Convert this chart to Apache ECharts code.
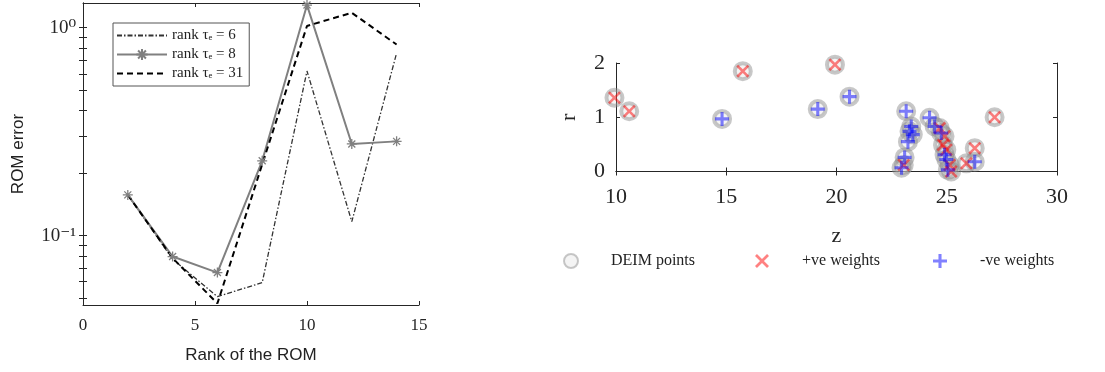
<!DOCTYPE html>
<html>
<head>
<meta charset="utf-8">
<script src="https://cdn.jsdelivr.net/npm/echarts@6/dist/echarts.min.js"></script>
<style>
html,body{margin:0;padding:0;background:#fff;}
#c{width:1105px;height:372px;}
</style>
</head>
<body>
<div id="c"></div>
<script>
// ---------- Left chart data ----------
const ranks = [2, 4, 6, 8, 10, 12, 14];
const err_tau6  = [0.157, 0.077, 0.0509, 0.0594, 0.619, 0.1167, 0.755];
const err_tau8  = [0.157, 0.0793, 0.0664, 0.229, 1.285, 0.276, 0.284];
const err_tau31 = [0.157, 0.078, 0.0472, 0.22, 1.02, 1.18, 0.83];
const seriesNames = ['rank \u03c4\u2091 = 6', 'rank \u03c4\u2091 = 8', 'rank \u03c4\u2091 = 31'];
const leftXTicks = [0, 5, 10, 15];
const leftYTickValues = [0.1, 1];
const leftYTickLabels = ['10\u207b\u00b9', '10\u2070'];
const leftYMinorTicks = [0.05, 0.06, 0.07, 0.08, 0.09, 0.1, 0.2, 0.3, 0.4, 0.5, 0.6, 0.7, 0.8, 0.9, 1];

// ---------- Right chart data ----------
const posZ = [9.93, 10.6, 15.75, 19.93, 27.17, 26.27, 25.89, 24.68, 24.9, 24.83, 24.98, 25.13, 25.2, 23.05];
const posR = [1.36, 1.11, 1.85, 1.97, 1.00, 0.43, 0.15, 0.80, 0.65, 0.49, 0.40, 0.12, 0.0, 0.12];
const negZ = [14.81, 19.15, 20.59, 23.16, 23.39, 23.31, 23.46, 23.24, 23.09, 22.95, 24.22, 24.45, 24.75, 24.9, 24.98, 25.05, 26.27];
const negR = [0.97, 1.15, 1.38, 1.11, 0.83, 0.74, 0.68, 0.55, 0.26, 0.07, 0.99, 0.83, 0.71, 0.31, 0.22, 0.03, 0.18];
const rightXTicks = [10, 15, 20, 25, 30];
const rightYTicks = [0, 1, 2];
const legendNames = ['DEIM points', '+ve weights', '-ve weights'];

const zip = (a, b) => a.map((v, i) => [v, b[i]]);
const posPts = zip(posZ, posR);
const negPts = zip(negZ, negR);
const deimPts = posPts.concat(negPts);

const AX = '#262626';
const SERIF = '"Liberation Serif","DejaVu Serif",serif';
const SANS = '"Liberation Sans",Arial,sans-serif';

const PLUS = 'path://M3.9,0H6.1V3.9H10V6.1H6.1V10H3.9V6.1H0V3.9H3.9Z';
const XSYM = 'path://M0,1.4L1.4,0L5,3.6L8.6,0L10,1.4L6.4,5L10,8.6L8.6,10L5,6.4L1.4,10L0,8.6L3.6,5Z';
const AST = 'path://M0,5L10,5M5,0L5,10M1.5,1.5L8.5,8.5M8.5,1.5L1.5,8.5';

const chart = echarts.init(document.getElementById('c'), null, {renderer: 'canvas'});

function logLabel(v) {
  const i = leftYTickValues.findIndex(t => Math.abs(t - v) / t < 1e-6);
  return i >= 0 ? leftYTickLabels[i] : '';
}

const rightLegendBase = {
  top: 253, padding: 0, itemWidth: 70, itemHeight: 14,
  textStyle: {fontFamily: SERIF, fontSize: 16, color: '#222'}
};

const option = {
  animation: false,
  backgroundColor: '#fff',
  grid: [
    {left: 83, top: 3, width: 336, height: 302},
    {left: 616, top: 63, width: 441, height: 108.5}
  ],
  legend: [
    {
      data: [
        {name: seriesNames[0], itemStyle: {opacity: 0}},
        {name: seriesNames[1]},
        {name: seriesNames[2], itemStyle: {opacity: 0}}
      ],
      orient: 'vertical',
      left: 113, top: 23,
      itemWidth: 50, itemHeight: 14, itemGap: 4,
      padding: [5, 6, 5, 3],
      borderColor: '#555', borderWidth: 1, backgroundColor: '#fff',
      textStyle: {fontFamily: SERIF, fontSize: 15, color: '#222'}
    },
    Object.assign({data: [legendNames[0]], left: 563}, rightLegendBase),
    Object.assign({data: [legendNames[1]], left: 755}, rightLegendBase),
    Object.assign({data: [legendNames[2]], left: 933}, rightLegendBase)
  ],
  xAxis: [
    {
      gridIndex: 0, type: 'value', min: 0, max: 15, interval: 5,
      name: 'Rank of the ROM', nameLocation: 'middle', nameGap: 42,
      nameTextStyle: {fontFamily: SANS, fontSize: 17, color: '#222'},
      axisLine: {lineStyle: {color: AX}},
      axisTick: {inside: true, length: 4, lineStyle: {color: AX}},
      axisLabel: {fontFamily: SERIF, fontSize: 17, color: AX, margin: 12,
        customValues: leftXTicks},
      splitLine: {show: false}
    },
    {
      gridIndex: 0, type: 'value', min: 0, max: 15, interval: 5, position: 'top',
      axisLine: {lineStyle: {color: AX}},
      axisTick: {inside: true, length: 4, lineStyle: {color: AX}},
      axisLabel: {show: false}, splitLine: {show: false}
    },
    {
      gridIndex: 1, type: 'value', min: 10, max: 30, interval: 5,
      name: 'z', nameLocation: 'middle', nameGap: 54,
      nameTextStyle: {fontFamily: SERIF, fontSize: 22, color: AX},
      axisLine: {lineStyle: {color: AX}},
      axisTick: {inside: true, length: 4, lineStyle: {color: AX}},
      axisLabel: {fontFamily: SERIF, fontSize: 22, color: AX, margin: 15,
        customValues: rightXTicks},
      splitLine: {show: false}
    },
    {
      gridIndex: 1, type: 'value', min: 10, max: 30, interval: 5, position: 'top',
      axisLine: {lineStyle: {color: AX}},
      axisTick: {inside: true, length: 4, lineStyle: {color: AX}},
      axisLabel: {show: false}, splitLine: {show: false}
    }
  ],
  yAxis: [
    {
      gridIndex: 0, type: 'log', min: 0.04637, max: 1.315, logBase: 10,
      name: 'ROM error', nameLocation: 'middle', nameGap: 56, nameRotate: 90,
      nameTextStyle: {fontFamily: SANS, fontSize: 17, color: '#222'},
      axisLine: {lineStyle: {color: AX}},
      axisTick: {inside: true, length: 4, lineStyle: {color: AX}, customValues: leftYMinorTicks},
      axisLabel: {fontFamily: SERIF, fontSize: 19, color: AX, margin: 7,
        customValues: leftYTickValues, formatter: logLabel},
      splitLine: {show: false}, minorTick: {show: false}
    },
    {
      gridIndex: 0, type: 'log', min: 0.04637, max: 1.315, logBase: 10, position: 'right',
      axisLine: {lineStyle: {color: AX}},
      axisTick: {inside: true, length: 4, lineStyle: {color: AX}, customValues: leftYMinorTicks},
      axisLabel: {show: false}, splitLine: {show: false}
    },
    {
      gridIndex: 1, type: 'value', min: 0, max: 2, interval: 1,
      name: 'r', nameLocation: 'middle', nameGap: 36, nameRotate: 90,
      nameTextStyle: {fontFamily: SERIF, fontSize: 22, color: AX},
      axisLine: {lineStyle: {color: AX}},
      axisTick: {inside: true, length: 4, lineStyle: {color: AX}},
      axisLabel: {fontFamily: SERIF, fontSize: 22, color: AX, margin: 11,
        customValues: rightYTicks},
      splitLine: {show: false}
    },
    {
      gridIndex: 1, type: 'value', min: 0, max: 2, interval: 1, position: 'right',
      axisLine: {lineStyle: {color: AX}},
      axisTick: {inside: true, length: 4, lineStyle: {color: AX}},
      axisLabel: {show: false}, splitLine: {show: false}
    }
  ],
  series: [
    {
      name: seriesNames[0], type: 'line', xAxisIndex: 0, yAxisIndex: 0,
      data: zip(ranks, err_tau6), symbol: 'none',
      lineStyle: {color: '#333', width: 1.3, type: [5, 2, 1.5, 2]},
      itemStyle: {color: '#333'}
    },
    {
      name: seriesNames[1], type: 'line', xAxisIndex: 0, yAxisIndex: 0,
      data: zip(ranks, err_tau8), symbol: AST, symbolSize: 10, showAllSymbol: true,
      lineStyle: {color: '#808080', width: 2},
      itemStyle: {color: '#808080', borderColor: '#808080', borderWidth: 1.3}
    },
    {
      name: seriesNames[2], type: 'line', xAxisIndex: 0, yAxisIndex: 0,
      data: zip(ranks, err_tau31), symbol: 'none',
      lineStyle: {color: '#000', width: 2, type: [6, 4]},
      itemStyle: {color: '#000'}
    },
    {
      name: legendNames[0], type: 'scatter', xAxisIndex: 2, yAxisIndex: 2,
      data: deimPts, symbol: 'circle', symbolSize: 16, clip: false,
      itemStyle: {color: 'rgba(215,215,215,0.35)', borderColor: 'rgba(140,140,140,0.6)', borderWidth: 4}
    },
    {
      name: legendNames[1], type: 'scatter', xAxisIndex: 2, yAxisIndex: 2,
      data: posPts, symbol: XSYM, symbolSize: 13, clip: false,
      itemStyle: {color: 'rgba(255,0,0,0.62)'}
    },
    {
      name: legendNames[2], type: 'scatter', xAxisIndex: 2, yAxisIndex: 2,
      data: negPts, symbol: PLUS, symbolSize: 14, clip: false,
      itemStyle: {color: 'rgba(0,0,255,0.62)'}
    }
  ]
};
chart.setOption(option);
</script>
</body>
</html>
